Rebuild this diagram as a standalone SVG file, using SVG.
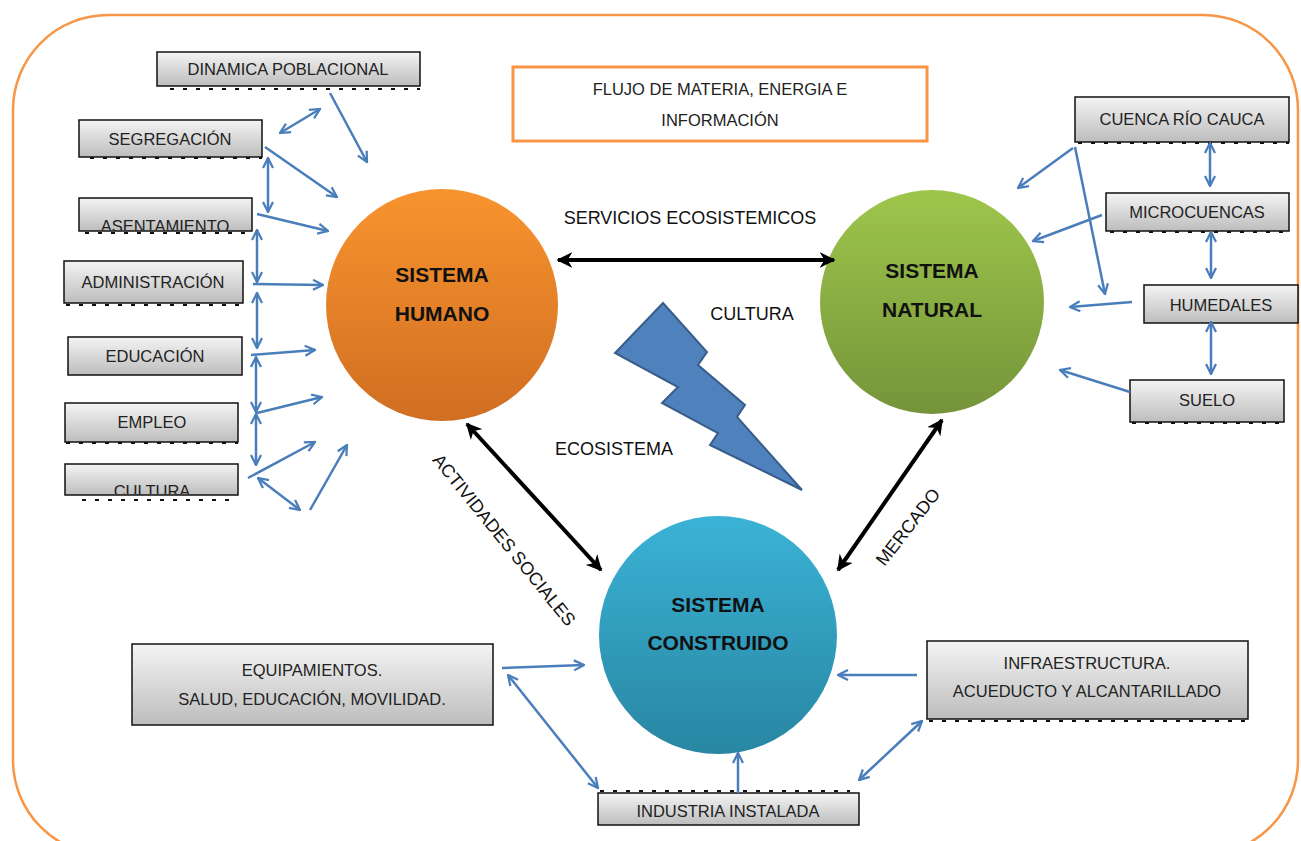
<svg xmlns="http://www.w3.org/2000/svg" width="1301" height="841" viewBox="0 0 1301 841">
<defs>
<linearGradient id="gBox" x1="0" y1="0" x2="0" y2="1"><stop offset="0" stop-color="#F4F4F4"/><stop offset="1" stop-color="#BDBDBD"/></linearGradient>
<linearGradient id="gH" x1="0" y1="0" x2="0" y2="1"><stop offset="0" stop-color="#F8942E"/><stop offset="1" stop-color="#D06E22"/></linearGradient>
<linearGradient id="gN" x1="0" y1="0" x2="0" y2="1"><stop offset="0" stop-color="#9EC64B"/><stop offset="1" stop-color="#75943A"/></linearGradient>
<linearGradient id="gC" x1="0" y1="0" x2="0" y2="1"><stop offset="0" stop-color="#3BB3D6"/><stop offset="1" stop-color="#2886A2"/></linearGradient>
<marker id="bh" viewBox="0 0 10 10" refX="9" refY="5" markerWidth="5" markerHeight="5" orient="auto-start-reverse" markerUnits="strokeWidth"><path d="M1,1 L9,5 L1,9" fill="none" stroke="#4A7EBB" stroke-width="1.8"/></marker>
<marker id="kh" viewBox="0 0 10 10" refX="9" refY="5" markerWidth="4" markerHeight="4" orient="auto-start-reverse" markerUnits="strokeWidth"><path d="M0,0 L10,5 L0,10 L3,5 Z" fill="#000"/></marker>
<clipPath id="cA"><rect x="79" y="198" width="173" height="32"/></clipPath>
<clipPath id="cC"><rect x="65" y="464" width="173" height="30"/></clipPath>
</defs>
<style>
.box{fill:url(#gBox);stroke:#111;stroke-width:1.5}
.sh{stroke:#111;stroke-width:2;stroke-dasharray:4 9;fill:none}
.t{font-family:"Liberation Sans",Arial,sans-serif;font-size:16.5px;fill:#222;text-anchor:middle}
.ct{font-family:"Liberation Sans",Arial,sans-serif;font-size:21px;font-weight:bold;fill:#111;text-anchor:middle}
.lb{font-family:"Liberation Sans",Arial,sans-serif;font-size:18px;fill:#111;text-anchor:middle}
.ba{stroke:#4A7EBB;stroke-width:2.5;fill:none;marker-end:url(#bh)}
.bd{stroke:#4A7EBB;stroke-width:2.5;fill:none;marker-end:url(#bh);marker-start:url(#bh)}
.ka{stroke:#000;stroke-width:4;fill:none;marker-end:url(#kh);marker-start:url(#kh)}
</style>
<rect width="1301" height="841" fill="#fff"/>
<rect id="frame" x="13" y="15" width="1285" height="840" rx="95" fill="none" stroke="#F79646" stroke-width="2.5"/>

<g id="flujo"><rect x="513" y="67" width="414" height="74" fill="#fff" stroke="#F79646" stroke-width="3"/><text class="t" x="720" y="95">FLUJO DE MATERIA, ENERGIA E</text><text class="t" x="720" y="126">INFORMACIÓN</text></g>

<g id="humano"><circle cx="442" cy="305" r="116" fill="url(#gH)"/><text class="ct" x="442" y="282">SISTEMA</text><text class="ct" x="442" y="321">HUMANO</text></g>
<g id="natural"><circle cx="932" cy="302" r="112" fill="url(#gN)"/><text class="ct" x="932" y="278">SISTEMA</text><text class="ct" x="932" y="317">NATURAL</text></g>
<g id="construido"><circle cx="718" cy="635" r="119" fill="url(#gC)"/><text class="ct" x="718" y="612">SISTEMA</text><text class="ct" x="718" y="650">CONSTRUIDO</text></g>

<g id="rayo"><polygon points="663,303 707,352 698,365 745,405 737,417 802,490 710,445 718,433 662,403 678,387 615,353" fill="#4F81BD" stroke="#385D8A" stroke-width="2"/></g>

<g id="dinamica"><rect class="box" x="157" y="52" width="263" height="34"/><line class="sh" x1="170" y1="89" x2="420" y2="89"/><text class="t" x="288" y="75">DINAMICA POBLACIONAL</text></g>
<g id="segregacion"><rect class="box" x="79" y="120" width="183" height="37"/><line class="sh" x1="90" y1="158" x2="262" y2="158"/><text class="t" x="170" y="145">SEGREGACIÓN</text></g>
<g id="asentamiento"><rect class="box" x="79" y="198" width="173" height="33"/><line class="sh" x1="85" y1="233" x2="252" y2="233"/><text class="t" x="165" y="232" clip-path="url(#cA)">ASENTAMIENTO</text></g>
<g id="administracion"><rect class="box" x="64" y="261" width="179" height="42"/><line class="sh" x1="66" y1="305" x2="243" y2="305"/><text class="t" x="153" y="288">ADMINISTRACIÓN</text></g>
<g id="educacion"><rect class="box" x="68" y="337" width="174" height="38"/><text class="t" x="155" y="362">EDUCACIÓN</text></g>
<g id="empleo"><rect class="box" x="65" y="403" width="173" height="39"/><line class="sh" x1="66" y1="443" x2="238" y2="443"/><text class="t" x="152" y="428">EMPLEO</text></g>
<g id="cultura"><rect class="box" x="65" y="464" width="173" height="31"/><line class="sh" x1="82" y1="500" x2="232" y2="500"/><text class="t" x="152" y="497" clip-path="url(#cC)">CULTURA</text></g>

<g id="cuenca"><rect class="box" x="1075" y="97" width="214" height="45"/><line class="sh" x1="1078" y1="143" x2="1289" y2="143"/><text class="t" x="1182" y="125">CUENCA RÍO CAUCA</text></g>
<g id="microcuencas"><rect class="box" x="1106" y="193" width="183" height="38"/><line class="sh" x1="1110" y1="232" x2="1289" y2="232"/><text class="t" x="1197" y="218">MICROCUENCAS</text></g>
<g id="humedales"><rect class="box" x="1144" y="285" width="154" height="38"/><text class="t" x="1221" y="311">HUMEDALES</text></g>
<g id="suelo"><rect class="box" x="1130" y="380" width="154" height="42"/><line class="sh" x1="1132" y1="423" x2="1284" y2="423"/><text class="t" x="1207" y="406">SUELO</text></g>

<g id="equipamientos"><rect class="box" x="132" y="644" width="361" height="81"/><text class="t" x="312" y="676">EQUIPAMIENTOS.</text><text class="t" x="312" y="705">SALUD, EDUCACIÓN, MOVILIDAD.</text></g>
<g id="infraestructura"><rect class="box" x="927" y="641" width="321" height="78"/><line class="sh" x1="929" y1="721" x2="1248" y2="721"/><text class="t" x="1087" y="669">INFRAESTRUCTURA.</text><text class="t" x="1087" y="697">ACUEDUCTO Y ALCANTARILLADO</text></g>
<g id="industria"><rect class="box" x="598" y="793" width="261" height="32"/><line class="sh" x1="600" y1="791" x2="850" y2="791"/><text class="t" x="728" y="817">INDUSTRIA INSTALADA</text></g>

<g id="etiquetas">
<text class="lb" x="690" y="224">SERVICIOS ECOSISTEMICOS</text>
<text class="lb" x="752" y="320">CULTURA</text>
<text class="lb" x="614" y="455">ECOSISTEMA</text>
<text class="lb" transform="translate(504,540) rotate(51)" y="6" font-size="19">ACTIVIDADES SOCIALES</text>
<text class="lb" transform="translate(908,527) rotate(-52)" y="6" font-size="19">MERCADO</text>
</g>

<g id="conectores">
<line class="ka" x1="558" y1="260" x2="834" y2="260"/>
<line class="ka" x1="467" y1="424" x2="601" y2="570"/>
<line class="ka" x1="942" y1="420" x2="838" y2="570"/>

<line class="bd" x1="280" y1="133" x2="320" y2="109"/>
<line class="ba" x1="330" y1="93" x2="367" y2="162"/>
<line class="ba" x1="265" y1="147" x2="337" y2="197"/>
<line class="bd" x1="268" y1="158" x2="268" y2="212"/>
<line class="ba" x1="257" y1="214" x2="328" y2="231"/>
<line class="bd" x1="257" y1="230" x2="257" y2="282"/>
<line class="ba" x1="253" y1="284" x2="323" y2="285"/>
<line class="bd" x1="257" y1="293" x2="257" y2="348"/>
<line class="ba" x1="251" y1="355" x2="315" y2="350"/>
<line class="bd" x1="256" y1="357" x2="256" y2="412"/>
<line class="bd" x1="256" y1="414" x2="256" y2="465"/>
<line class="ba" x1="257" y1="413" x2="322" y2="397"/>
<line class="ba" x1="248" y1="478" x2="315" y2="442" stroke-width="1.8"/>
<line class="bd" x1="258" y1="478" x2="300" y2="510"/>
<line class="ba" x1="310" y1="510" x2="347" y2="445"/>

<line class="ba" x1="1073" y1="148" x2="1018" y2="188"/>
<line class="ba" x1="1075" y1="147" x2="1105" y2="294"/>
<line class="ba" x1="1102" y1="215" x2="1033" y2="241"/>
<line class="bd" x1="1210" y1="143" x2="1210" y2="186"/>
<line class="bd" x1="1211" y1="232" x2="1211" y2="278"/>
<line class="ba" x1="1132" y1="302" x2="1070" y2="307"/>
<line class="bd" x1="1211" y1="322" x2="1211" y2="374"/>
<line class="ba" x1="1130" y1="392" x2="1060" y2="370"/>

<line class="ba" x1="502" y1="668" x2="584" y2="665"/>
<line class="bd" x1="508" y1="675" x2="598" y2="788"/>
<line class="ba" x1="738" y1="793" x2="738" y2="753"/>
<line class="ba" x1="917" y1="675" x2="838" y2="675"/>
<line class="bd" x1="859" y1="780" x2="922" y2="721"/>
</g>
</svg>
